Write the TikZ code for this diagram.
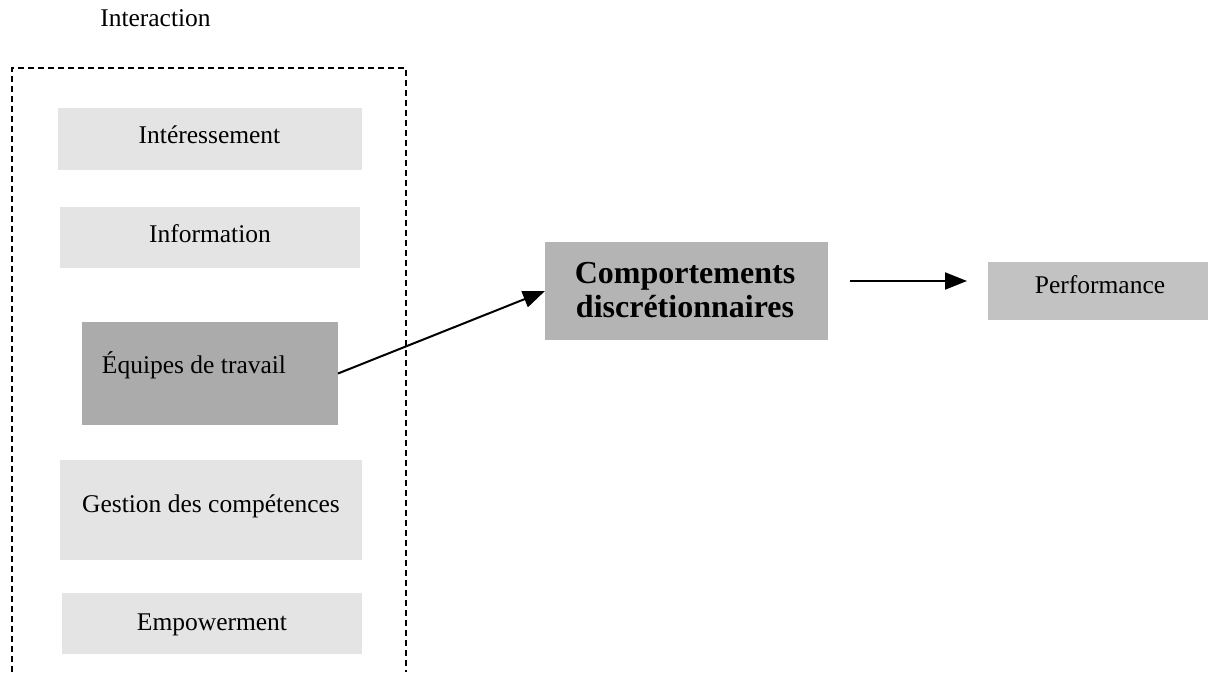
\documentclass[tikz,border=0pt]{standalone}
\usepackage{fontspec}
\setmainfont{Liberation Serif}
\usetikzlibrary{arrows.meta,calc}
\definecolor{lightfill}{HTML}{E4E4E4}
\definecolor{eqfill}{HTML}{ABABAB}
\definecolor{compfill}{HTML}{B4B4B4}
\definecolor{perffill}{HTML}{C2C2C2}
\begin{document}
\begin{tikzpicture}[x=1pt,y=-1pt,
  boxbase/.style={draw=none, inner sep=0pt, outer sep=0pt},
  lightbox/.style={boxbase, fill=lightfill},
  darkbox/.style={boxbase, fill=eqfill},
  lbl/.style={font=\fontsize{25.5}{30}\selectfont, inner sep=0pt, anchor=base},
  arr/.style={line width=2pt, -{Triangle[length=22pt,width=17pt]}},
  dashedbox/.style={line width=1.8pt, dash pattern=on 6pt off 4pt}]
\useasboundingbox (0,0) rectangle (1209,672);

% title
\node[lbl] (inter) at (155.5,26) {Interaction};

% dashed frame (open at the bottom)
\draw[dashedbox] (12,672) -- (12,68) -- (406,68) -- (406,672);

% boxes
\node[lightbox, minimum width=304pt, minimum height=62pt] (int) at (210,139) {};
\node[lightbox, minimum width=300pt, minimum height=61pt] (info) at (210,237.5) {};
\node[darkbox, minimum width=256pt, minimum height=103pt] (eq) at (210,373.5) {};
\node[lightbox, minimum width=302pt, minimum height=100pt] (gest) at (211,510) {};
\node[lightbox, minimum width=300pt, minimum height=61pt] (emp) at (211.5,623.5) {};
\node[boxbase, fill=compfill, minimum width=283pt, minimum height=98pt] (comp) at (686.5,291) {};
\node[boxbase, fill=perffill, minimum width=220pt, minimum height=58pt] (perf) at (1098,291) {};

% labels
\node[lbl] (intT) at (209.5,143) {Intéressement};
\node[lbl] (infoT) at (210,242) {Information};
\node[lbl] (eqT) at (194,373) {Équipes de travail};
\node[lbl] (gestT) at (211,512) {Gestion des compétences};
\node[lbl] (empT) at (212,630) {Empowerment};
\node[font=\fontsize{32}{34}\selectfont\bfseries, align=center, inner sep=0pt] (compT) at (685,290) {Comportements\\discrétionnaires};
\node[lbl] (perfT) at (1100,293) {Performance};

% connectors
\draw[arr] (eq.east) -- (comp.west);
\draw[arr] ($(comp.east)+(22,-10)$) -- ($(perf.west)+(-21,-10)$);
\end{tikzpicture}
\end{document}
